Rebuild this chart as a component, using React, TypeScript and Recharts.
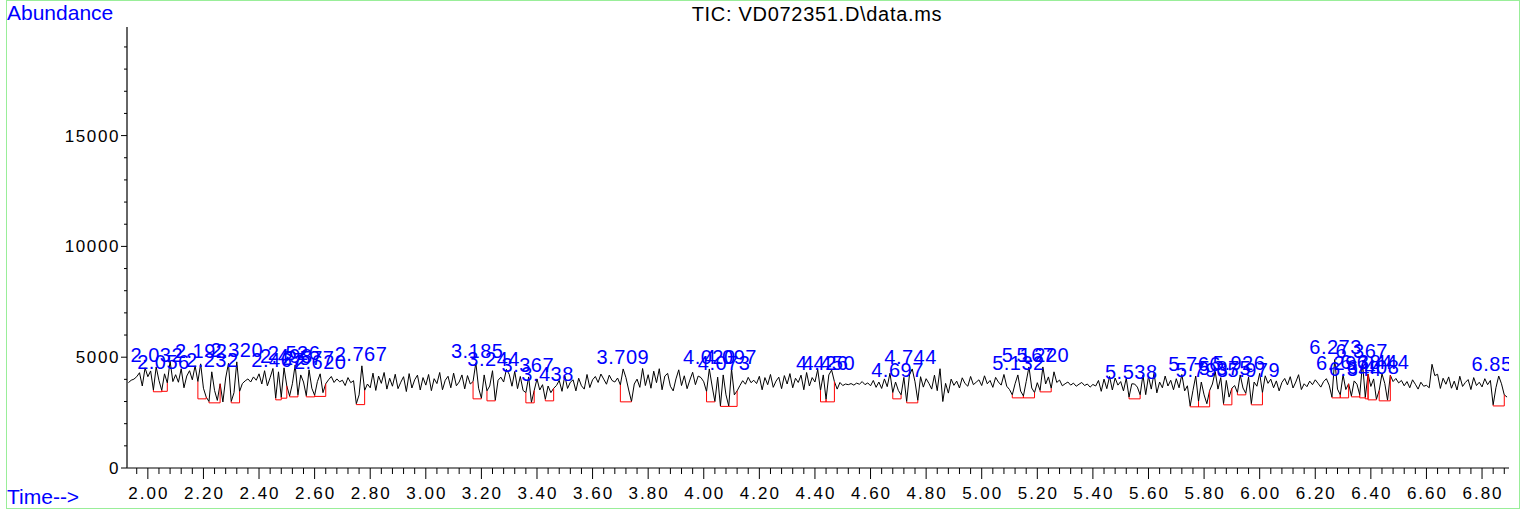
import React from "react";
import { ComposedChart, Line, Scatter, XAxis, YAxis } from "recharts";

// scan times: first scan and scan interval (minutes)
const T0 = 1.93;
const STEP = 0.01;

// TIC abundance, one value per scan
const ABUNDANCE = [
  3850, 3960, 4010, 4120, 4300, 3700, 4520,
  // 2.00
  4120, 4380, 3520, 4560, 3950, 3500, 4250, 3840, 4820, 3900,
  4210, 3870, 4480, 3620, 4150, 4390, 3980, 4610, 3900, 4700,
  3600, 3200, 3000, 4340, 3500, 3050, 3800, 2980, 4060, 4720,
  3000, 3400, 4790, 3450, 3810, 3930, 4020, 3880, 4110, 3960,
  4250, 3790, 4390, 3710, 4080, 4490, 3150, 4340, 3200, 4520,
  3700, 3250, 3800, 4650, 3300, 4200, 3880, 3260, 4430, 3600,
  3280, 3900, 4250, 3400, 3800, 3980, 4130, 3860, 4020, 3890,
  3960, 3720, 4080, 3850, 3940, 2900, 3300, 4610, 3500, 3790,
  3620, 4280, 3500, 4150, 3820, 4310, 3560, 4050, 3690, 4230,
  3580, 3870, 4120, 3450, 4260, 3610, 3980, 4190, 3520, 4080,
  // 3.00
  3740, 4220, 3490, 4030, 3810, 4310, 3530, 3960, 4140, 3620,
  4280, 3710, 3880, 4200, 3570, 4170, 3790, 3900, 4750, 3600,
  3150, 4200, 3480, 3700, 4390, 3060, 3960, 4100, 3880, 4450,
  4230, 3690, 4360, 3580, 4130, 3500, 3400, 4110, 2960, 3500,
  4020, 3520, 3760, 3100, 3700, 3400, 3600, 3720, 3950, 3460,
  4160, 3590, 3870, 3980, 3480, 4050, 3710, 3560, 4220, 3630,
  3980, 4130, 3860, 4240, 4010, 3780, 4190, 3950, 3880, 4060,
  3750, 4470, 4080, 3520, 3000, 3790, 4010, 3640, 4490, 3720,
  4210, 3600, 4370, 3850, 4480, 3530, 4150, 4270, 3690, 3480,
  4020, 4430, 3720, 4160, 3580, 3970, 4320, 3760, 4150, 4080,
  // 4.00
  3890, 3450, 4470, 3700, 3000, 4100, 2800, 4200, 3300, 2790,
  4470, 3300, 3480, 3720, 3940, 3780, 4090, 3850, 3960, 3810,
  4140, 3530, 4080, 3760, 4220, 3640, 3920, 4100, 3580, 4170,
  3790, 4260, 3620, 4050, 3860, 4190, 3530, 4310, 3700, 4080,
  3880, 4440, 3500, 4200, 3100, 4200, 4420, 3900, 3560, 3860,
  3720, 3790, 3760, 3810, 3740, 3830, 3780, 3900, 3760, 3840,
  3710, 3950, 3640, 3880, 3590, 4020, 3670, 4280, 3400, 3880,
  3500, 3300, 4090, 3000, 4200, 4470, 3890, 3050, 4120, 3650,
  4030, 3820, 3560, 4190, 3490, 4480, 3000, 3820, 3380, 4010,
  3730, 3920, 3610, 4070, 3810, 3690, 4130, 3760, 3870, 3980,
  // 5.00
  3720, 4160, 3800, 3950, 3640, 4090, 3880, 3740, 4220, 3690,
  3540, 3300, 3800, 4200, 3470, 3250, 3900, 4560, 3610, 3400,
  3850, 3500, 4560, 3790, 4110, 3600, 4340, 3860, 3970, 3710,
  3800, 3880, 3740, 3830, 3690, 3780, 3860, 3720, 3790, 3650,
  3770, 3700, 3950, 3460, 4010, 3580, 4130, 3520, 4060, 3740,
  3900, 3480, 4050, 3200, 3800, 3790, 3650, 3300, 4200, 3310,
  4140, 3560, 4280, 3390, 3880, 3620, 4150, 3700, 3960, 3530,
  4030, 3620, 4220, 3480, 3710, 2800, 3500, 4150, 3000, 3880,
  3300, 2900, 3500, 3790, 4350, 3560, 4080, 2900, 3950, 3200,
  3600, 3720, 3400, 4200, 3610, 3370, 4110, 2900, 3880, 3690,
  // 6.00
  4270, 3400, 4160, 3820, 4010, 3620, 3930, 3480, 3860, 4040,
  3750, 4120, 3610, 3880, 4210, 3540, 3800, 3670, 3920, 3760,
  3980, 3820, 3650, 3900, 4030, 3740, 3200, 4900, 3560, 3300,
  4200, 3540, 3800, 3250, 3930, 3780, 3300, 4740, 3200, 4240,
  3680, 4020, 3100, 3500, 4250, 3820, 3060, 4190, 3900, 4040,
  3840, 3950, 3710, 3900, 3620, 3980, 3780, 3560, 3870, 3690,
  3730, 3620, 4680, 4170, 4230, 3590, 4050, 3780, 4110, 3600,
  3920, 3520, 4140, 3680, 3860, 3990, 3540, 4080, 3720, 3870,
  3660, 4030, 3760, 3950, 2850, 3620, 4150, 3800, 3300, 3200,
];

// integrated peaks: retention time label, start, end, baseline level, apex
const PEAK_RT = [
  2.032, 2.056, 2.192, 2.232, 2.32, 2.467, 2.498, 2.526, 2.577, 2.62, 2.767,
  3.185, 3.244, 3.367, 3.438, 3.709, 4.02, 4.073, 4.097, 4.426, 4.45, 4.697,
  4.744, 5.132, 5.167, 5.22, 5.538, 5.766, 5.793, 5.875, 5.926, 5.979, 6.273,
  6.297, 6.344, 6.367, 6.384, 6.408, 6.444, 6.857,
];
const PEAK_START = [
  2.02, 2.05, 2.18, 2.22, 2.3, 2.46, 2.48, 2.51, 2.57, 2.6, 2.75,
  3.17, 3.22, 3.36, 3.43, 3.7, 4.01, 4.06, 4.09, 4.42, 4.44, 4.68,
  4.73, 5.11, 5.15, 5.21, 5.53, 5.75, 5.78, 5.87, 5.92, 5.97, 6.26,
  6.29, 6.33, 6.36, 6.38, 6.39, 6.43, 6.84,
];
const PEAK_END = [
  2.05, 2.07, 2.21, 2.26, 2.33, 2.48, 2.5, 2.54, 2.6, 2.64, 2.78,
  3.2, 3.25, 3.39, 3.46, 3.74, 4.04, 4.09, 4.12, 4.44, 4.47, 4.71,
  4.77, 5.15, 5.19, 5.25, 5.57, 5.78, 5.82, 5.9, 5.95, 6.01, 6.29,
  6.32, 6.36, 6.38, 6.39, 6.42, 6.47, 6.88,
];
const PEAK_BASE = [
  3440, 3460, 3120, 2940, 2940, 3075, 3150, 3210, 3210, 3230, 2860,
  3120, 3030, 2940, 3030, 2985, 2985, 2780, 2780, 2985, 2985, 3120,
  2940, 3165, 3165, 3435, 3120, 2760, 2760, 2850, 3300, 2850, 3165,
  3165, 3210, 3165, 3120, 3075, 3030, 2800,
];
const PEAK_APEX = [
  4565, 4250, 4746, 4340, 4790, 4340, 4520, 4655, 4430, 4250, 4610,
  4746, 4385, 4113, 3706, 4475, 4475, 4204, 4475, 4204, 4204, 3887,
  4475, 4204, 4565, 4565, 3797, 4158, 3887, 3978, 4204, 3887, 4927,
  4204, 3932, 4746, 4250, 4023, 4250, 4158,
];

const X_MAJOR = [
  2.0, 2.2, 2.4, 2.6, 2.8, 3.0, 3.2, 3.4, 3.6, 3.8, 4.0, 4.2, 4.4,
  4.6, 4.8, 5.0, 5.2, 5.4, 5.6, 5.8, 6.0, 6.2, 6.4, 6.6, 6.8,
];
const Y_MAJOR = [0, 5000, 10000, 15000];

const X_DOMAIN: [number, number] = [1.925, 6.897];
const Y_DOMAIN: [number, number] = [0, 19900];

// minor tick marks every 0.04 min and every 1000 counts
const X_TICKS = Array.from({ length: 124 }, (_, i) => +(1.96 + i * 0.04).toFixed(2));
const Y_TICKS = Array.from({ length: 20 }, (_, i) => i * 1000);

const FONT = '"Liberation Sans", Arial, Helvetica, sans-serif';

const signal = ABUNDANCE.map((v, i) => ({ t: +(T0 + i * STEP).toFixed(2), v }));
const sigAt = (t: number) => ABUNDANCE[Math.round((t - T0) / STEP)];

// red integration baselines with drop lines, null breaks between peaks
const baselines: Array<{ t: number; v: number | null }> = [];
PEAK_RT.forEach((_, i) => {
  const s = PEAK_START[i];
  const e = PEAK_END[i];
  const b = PEAK_BASE[i];
  baselines.push({ t: s, v: sigAt(s) });
  baselines.push({ t: s, v: b });
  baselines.push({ t: e, v: b });
  baselines.push({ t: e, v: sigAt(e) });
  baselines.push({ t: e, v: null });
});

const peakLabels = PEAK_RT.map((rt, i) => ({ t: rt, v: PEAK_APEX[i], label: rt.toFixed(3) }));

function TimeTick(props: any) {
  const { x, y, payload } = props;
  const v = payload.value as number;
  const major = X_MAJOR.some((m) => Math.abs(m - v) < 1e-6);
  return (
    <g>
      <line x1={x} x2={x} y1={y} y2={y + (major ? 11 : 6)} stroke="#000" />
      {major && (
        <text
          x={x + 1}
          y={y + 31}
          textAnchor="middle"
          fontSize={17}
          fontFamily={FONT}
          letterSpacing={2}
          fill="#000"
        >
          {v.toFixed(2)}
        </text>
      )}
    </g>
  );
}

function AbundanceTick(props: any) {
  const { x, y, payload } = props;
  const v = payload.value as number;
  const major = Y_MAJOR.includes(v);
  return (
    <g>
      <line x1={x - (major ? 6 : 3)} x2={x} y1={y} y2={y} stroke="#000" />
      {major && (
        <text
          x={x - 7}
          y={y + 6}
          textAnchor="end"
          fontSize={17}
          fontFamily={FONT}
          letterSpacing={1.6}
          fill="#000"
        >
          {v}
        </text>
      )}
    </g>
  );
}

function PeakLabel(props: any) {
  const { cx, cy, payload } = props;
  return (
    <text
      x={cx}
      y={cy - 5}
      textAnchor="middle"
      fontSize={20}
      fontFamily={FONT}
      letterSpacing={0.5}
      fill="#0000ff"
    >
      {payload.label}
    </text>
  );
}

const textStyle: React.CSSProperties = {
  position: "absolute",
  fontFamily: FONT,
  fontSize: 21,
  lineHeight: "21px",
  whiteSpace: "nowrap",
};

export default function App() {
  return (
    <div style={{ position: "absolute", left: 0, top: 0, width: 1526, height: 512, background: "#fff" }}>
      <div
        style={{
          position: "absolute",
          left: 6,
          top: 0,
          width: 1514,
          height: 509,
          border: "1px solid #99ee99",
          boxSizing: "border-box",
        }}
      />
      <div style={{ ...textStyle, left: 7, top: 2, color: "#0000ff" }}>Abundance</div>
      <div style={{ ...textStyle, left: 7, top: 486, color: "#0000ff" }}>Time--&gt;</div>
      <div
        style={{
          ...textStyle,
          fontSize: 20,
          lineHeight: "20px",
          left: 817,
          top: 4,
          color: "#000",
          letterSpacing: 0.7,
          transform: "translateX(-50%)",
        }}
      >
        TIC: VD072351.D\data.ms
      </div>
      <div style={{ position: "absolute", left: 0, top: 0 }}>
        <ComposedChart
          width={1514}
          height={512}
          data={signal}
          margin={{ top: 27, right: 5, bottom: 0, left: 0 }}
        >
          <XAxis
            dataKey="t"
            type="number"
            domain={X_DOMAIN}
            allowDataOverflow
            ticks={X_TICKS}
            interval={0}
            height={44}
            tickSize={0}
            tickMargin={0}
            tickLine={false}
            axisLine={{ stroke: "#000" }}
            tick={<TimeTick />}
          />
          <YAxis
            type="number"
            domain={Y_DOMAIN}
            allowDataOverflow
            ticks={Y_TICKS}
            interval={0}
            width={127}
            tickSize={0}
            tickMargin={0}
            tickLine={false}
            axisLine={{ stroke: "#333", strokeWidth: 1.5 }}
            tick={<AbundanceTick />}
          />
          <Line
            dataKey="v"
            type="linear"
            stroke="#000"
            strokeWidth={1}
            dot={false}
            isAnimationActive={false}
          />
          <Line
            data={baselines}
            dataKey="v"
            type="linear"
            stroke="#ff0000"
            strokeWidth={1}
            dot={false}
            connectNulls={false}
            isAnimationActive={false}
          />
          <Scatter
            data={peakLabels}
            dataKey="v"
            shape={<PeakLabel />}
            isAnimationActive={false}
          />
        </ComposedChart>
      </div>
    </div>
  );
}
